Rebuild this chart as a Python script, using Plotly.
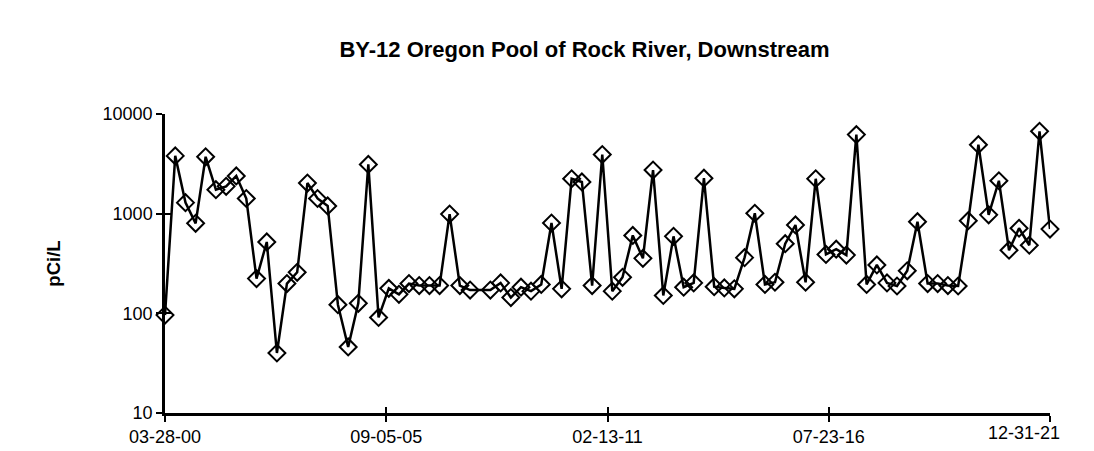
import plotly.graph_objects as go

title_text = "BY-12 Oregon Pool of Rock River, Downstream"
y_label = "pCi/L"

dates = [
    "2000-03-28", "2000-06-28", "2000-09-28", "2000-12-28",
    "2001-03-28", "2001-06-28", "2001-09-28", "2001-12-28",
    "2002-03-28", "2002-06-28", "2002-09-28", "2002-12-28",
    "2003-03-28", "2003-06-28", "2003-09-28", "2003-12-28",
    "2004-03-28", "2004-06-28", "2004-09-28", "2004-12-28",
    "2005-03-28", "2005-06-28", "2005-09-28", "2005-12-28",
    "2006-03-28", "2006-06-28", "2006-09-28", "2006-12-28",
    "2007-03-28", "2007-06-28", "2007-09-28",
    "2008-03-28", "2008-06-28", "2008-09-28", "2008-12-28",
    "2009-03-28", "2009-06-28", "2009-09-28", "2009-12-28",
    "2010-03-28", "2010-06-28", "2010-09-28", "2010-12-28",
    "2011-03-28", "2011-06-28", "2011-09-28", "2011-12-28",
    "2012-03-28", "2012-06-28", "2012-09-28", "2012-12-28",
    "2013-03-28", "2013-06-28", "2013-09-28", "2013-12-28",
    "2014-03-28", "2014-06-28", "2014-09-28", "2014-12-28",
    "2015-03-28", "2015-06-28", "2015-09-28", "2015-12-28",
    "2016-03-28", "2016-06-28", "2016-09-28", "2016-12-28",
    "2017-03-28", "2017-06-28", "2017-09-28", "2017-12-28",
    "2018-03-28", "2018-06-28", "2018-09-28", "2018-12-28",
    "2019-03-28", "2019-06-28", "2019-09-28", "2019-12-28",
    "2020-03-28", "2020-06-28", "2020-09-28", "2020-12-28",
    "2021-03-28", "2021-06-28", "2021-09-28", "2021-12-31",
]

values = [
    96, 3800, 1290, 800,
    3720, 1740, 1880, 2390,
    1420, 223, 520, 40,
    199, 258, 2030, 1420,
    1195, 122, 46, 126,
    3120, 91, 178, 155,
    199, 190, 190, 190,
    990, 190, 171,
    171, 202, 144, 183,
    167, 195, 806, 176,
    2240, 2080, 190, 3920,
    167, 230, 605, 356,
    2740, 151, 592, 183,
    202, 2270, 185, 180,
    176, 362, 1010, 195,
    205, 500, 770, 205,
    2240, 390, 440, 384,
    6210, 195, 306, 202,
    188, 267, 830, 199,
    199, 190, 188, 850,
    4920, 973, 2140, 430,
    714, 482, 6700, 700,
]

x_tick_vals = ["2000-03-28", "2005-09-05", "2011-02-13", "2016-07-23", "2021-12-31"]
x_tick_text = ["03-28-00", "09-05-05", "02-13-11", "07-23-16", "12-31-21"]
y_tick_vals = [10, 100, 1000, 10000]
y_tick_text = ["10", "100", "1000", "10000"]

FONT = "Arial, Liberation Sans, sans-serif"
TICK_FONT = dict(family=FONT, size=18, color="black")

fig = go.Figure()
fig.add_trace(go.Scatter(
    x=dates, y=values, mode="lines+markers",
    line=dict(color="black", width=2.5),
    marker=dict(symbol="diamond-open", size=13, color="black", line=dict(width=2, color="black")),
    showlegend=False, hoverinfo="x+y", cliponaxis=False,
))
# invisible twin used only to draw the inner half of the crossing tick marks
fig.add_trace(go.Scatter(
    x=dates, y=values, mode="lines", line=dict(color="rgba(0,0,0,0)"),
    xaxis="x2", yaxis="y2", showlegend=False, hoverinfo="skip",
))

x_range = [x_tick_vals[0], x_tick_vals[-1]]
common_x = dict(type="date", range=x_range, tickvals=x_tick_vals)
common_y = dict(type="log", range=[1, 4], tickvals=y_tick_vals)

# all tick labels but the last drawn by the axis; the last one is pulled
# inward (as in the reference) so it stays inside the chart area
shown_ticktext = x_tick_text[:-1] + [""]

fig.update_layout(
    width=1094, height=451,
    paper_bgcolor="white", plot_bgcolor="white",
    margin=dict(l=157, r=52, t=106, b=29),
    font=dict(family=FONT, size=18, color="black"),
    title=dict(text="<b>" + title_text + "</b>", x=0.527, xanchor="center",
               y=1 - 41 / 451, yanchor="middle",
               font=dict(family=FONT, size=22, color="black")),
    xaxis=dict(**common_x, ticktext=shown_ticktext, showgrid=False, zeroline=False,
               showline=True, linecolor="black", linewidth=2.5,
               ticks="outside", ticklen=6, tickwidth=2, tickcolor="black",
               tickfont=TICK_FONT),
    yaxis=dict(**common_y, ticktext=y_tick_text, showgrid=False, zeroline=False,
               showline=True, linecolor="black", linewidth=2.5,
               ticks="outside", ticklen=6, tickwidth=2, tickcolor="black",
               tickfont=TICK_FONT,
               title=dict(text="<b>" + y_label + "</b>", standoff=38,
                          font=dict(family=FONT, size=18.5, color="black"))),
    xaxis2=dict(**common_x, overlaying="x", side="bottom", showticklabels=False,
                showgrid=False, zeroline=False, showline=False,
                ticks="inside", ticklen=6, tickwidth=2, tickcolor="black"),
    yaxis2=dict(**common_y, overlaying="y", side="left", showticklabels=False,
                showgrid=False, zeroline=False, showline=False,
                ticks="inside", ticklen=6, tickwidth=2, tickcolor="black"),
    annotations=[dict(
        text=x_tick_text[-1], x=x_tick_vals[-1], xref="x", y=0, yref="paper",
        xanchor="right", yanchor="top", xshift=12, yshift=-8,
        showarrow=False, font=TICK_FONT,
    )],
)

fig.write_html("out.html")
